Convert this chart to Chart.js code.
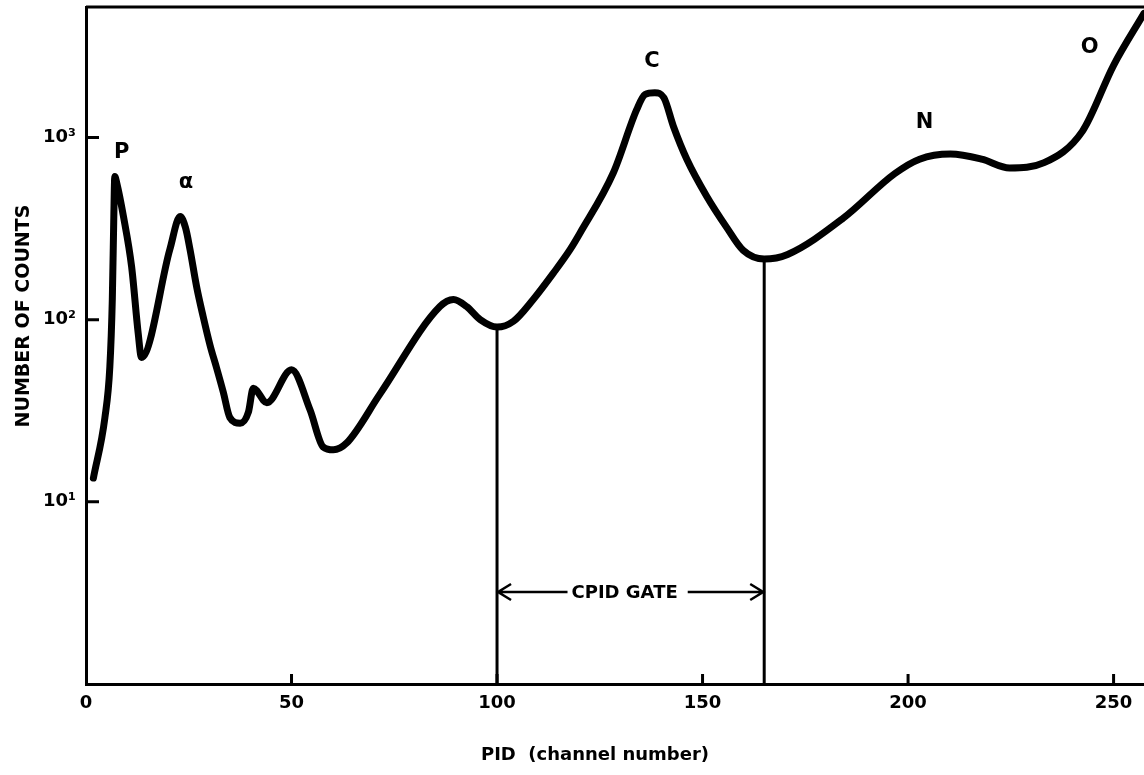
<!DOCTYPE html>
<html>
<head>
<meta charset="utf-8">
<title>PID spectrum</title>
<script src="https://cdn.jsdelivr.net/npm/chart.js@4/dist/chart.umd.min.js"></script>
<style>
  html, body { margin: 0; padding: 0; background: #fff; }
  #wrap { width: 1144px; height: 775px; }
</style>
</head>
<body>
<div id="wrap"><canvas id="pidChart" width="1144" height="775"></canvas></div>
<script>
// PID spectrum, counts per channel (log scale)
const channel = [1.8, 4.6, 5.8, 6.4, 6.75, 7.0, 7.5, 9.1, 11.1, 12.7, 13.5, 20.4, 22.9, 24.2, 25.3, 26.9, 28.5, 30.2, 31.8, 33.4, 35, 37.5, 39.5, 40.7, 44, 50, 54.5, 57.7, 60.2, 63.4, 71.5, 86.1, 89.4, 92.6, 95.9, 100, 104, 108.8, 113.7, 117.8, 120.2, 128.3, 134, 136, 138.4, 140.6, 142.9, 146.2, 151, 155.9, 159.9, 165, 170.7, 184.2, 196.8, 202.8, 210.3, 217.9, 224.7, 233.1, 242.4, 250, 257.4];
const counts = [13.5, 29, 55, 129, 350, 610, 560, 370, 195, 84, 62, 243, 368, 320, 243, 152, 104, 72, 54, 40, 29, 27, 31, 42, 35, 53, 32, 20, 19.3, 21, 39, 118, 129, 118, 100, 91, 98, 129, 180, 243, 299, 640, 1425, 1720, 1760, 1650, 1153, 757, 476, 320, 240, 215, 228, 360, 634, 760, 810, 760, 680, 727, 1080, 2490, 4800];

// CPID gate edges and the curve height where each line stops
const gateChannels = [100, 165];
const gateTops = [91, 215];
const gateArrowLevel = 3.2;

// peak names with the spot each letter sits at
const peakNames = ['P', 'α', 'C', 'N', 'O'];
const peakChannels = [8.7, 24.3, 137.7, 204, 244.2];
const peakLevels = [828, 566, 2600, 1208, 3100];

const xTicks = [0, 50, 100, 150, 200, 250];
const yTicks = [10, 100, 1000];
const yTickLabels = ['10¹', '10²', '10³'];

const xTitle = 'PID  (channel number)';
const yTitle = 'NUMBER OF COUNTS';

const FONT = '"DejaVu Sans", "Liberation Sans", sans-serif';

let curve = [];
for (let i = 0; i < channel.length; i++) {
  curve.push({ x: channel[i], y: counts[i] });
}

let datasets = [{
  data: curve,
  borderColor: '#000',
  borderWidth: 7,
  pointRadius: 0,
  cubicInterpolationMode: 'monotone',
  borderCapStyle: 'round',
  borderJoinStyle: 'round'
}];

for (let i = 0; i < gateChannels.length; i++) {
  datasets.push({
    data: [{ x: gateChannels[i], y: 1 }, { x: gateChannels[i], y: gateTops[i] }],
    borderColor: '#000',
    borderWidth: 3,
    pointRadius: 0
  });
}

// frame top, inward ticks, axis titles, peak letters and the gate arrows
const annotate = {
  id: 'annotate',
  afterDatasetsDraw(chart) {
    const ctx = chart.ctx;
    const area = chart.chartArea;
    const x = chart.scales.x;
    const y = chart.scales.y;
    ctx.save();
    ctx.strokeStyle = '#000';
    ctx.fillStyle = '#000';
    ctx.lineWidth = 3;
    ctx.beginPath();
    ctx.moveTo(area.left, area.top);
    ctx.lineTo(area.right, area.top);
    for (let v of xTicks) {
      if (v === 0) continue;
      let px = x.getPixelForValue(v);
      ctx.moveTo(px, area.bottom);
      ctx.lineTo(px, area.bottom - 10);
    }
    for (let v of yTicks) {
      let py = y.getPixelForValue(v);
      ctx.moveTo(area.left, py);
      ctx.lineTo(area.left + 13, py);
    }
    ctx.stroke();

    ctx.textAlign = 'center';
    ctx.textBaseline = 'middle';

    // axis titles
    ctx.font = 'bold 18px ' + FONT;
    ctx.fillText(xTitle, 595, 755);
    ctx.save();
    ctx.translate(24, 316);
    ctx.rotate(-Math.PI / 2);
    ctx.font = 'bold 19px ' + FONT;
    ctx.fillText(yTitle, 0, 0);
    ctx.restore();

    ctx.font = 'bold 21px ' + FONT;
    for (let i = 0; i < peakNames.length; i++) {
      ctx.fillText(peakNames[i], x.getPixelForValue(peakChannels[i]), y.getPixelForValue(peakLevels[i]));
    }

    // CPID gate arrows
    let gx1 = x.getPixelForValue(gateChannels[0]);
    let gx2 = x.getPixelForValue(gateChannels[1]);
    let gy = y.getPixelForValue(gateArrowLevel);
    let mid = (gx1 + gx2) / 2 - 6;
    ctx.font = 'bold 18px ' + FONT;
    let half = ctx.measureText('CPID GATE').width / 2;
    ctx.fillText('CPID GATE', mid, gy + 1);
    ctx.lineWidth = 2.5;
    ctx.beginPath();
    ctx.moveTo(gx1, gy);
    ctx.lineTo(mid - half - 4, gy);
    ctx.moveTo(mid + half + 10, gy);
    ctx.lineTo(gx2, gy);
    ctx.moveTo(gx1 + 14, gy - 8);
    ctx.lineTo(gx1 + 1, gy);
    ctx.lineTo(gx1 + 14, gy + 8);
    ctx.moveTo(gx2 - 14, gy - 8);
    ctx.lineTo(gx2 - 1, gy);
    ctx.lineTo(gx2 - 14, gy + 8);
    ctx.stroke();
    ctx.restore();
  }
};

const canvas = document.getElementById('pidChart');
new Chart(canvas, {
  type: 'line',
  data: { datasets: datasets },
  plugins: [annotate],
  options: {
    responsive: false,
    animation: false,
    devicePixelRatio: 1,
    layout: { padding: { top: 7, left: 0, right: 0, bottom: 0 } },
    plugins: { legend: { display: false }, tooltip: { enabled: false } },
    scales: {
      x: {
        type: 'linear',
        min: 0,
        max: 257.4,
        afterFit: function (scale) {
          scale.height = 91;
          scale.paddingLeft = 0;
          scale.paddingRight = 0;
        },
        afterBuildTicks: function (scale) { scale.ticks = xTicks.map(v => ({ value: v })); },
        grid: { display: false, drawTicks: false },
        border: { color: '#000', width: 3 },
        ticks: { color: '#000', padding: 9, maxRotation: 0, font: { family: FONT, size: 18, weight: 'bold' } }
      },
      y: {
        type: 'logarithmic',
        min: 1,
        max: 5200,
        afterFit: function (scale) {
          scale.width = 86;
          scale.paddingTop = 0;
          scale.paddingBottom = 0;
        },
        afterBuildTicks: function (scale) { scale.ticks = yTicks.map(v => ({ value: v })); },
        grid: { display: false, drawTicks: false },
        border: { color: '#000', width: 3 },
        ticks: {
          color: '#000',
          padding: 10,
          font: { family: FONT, size: 18, weight: 'bold' },
          callback: function (value) { return yTickLabels[yTicks.indexOf(value)]; }
        }
      }
    }
  }
});
</script>
</body>
</html>
